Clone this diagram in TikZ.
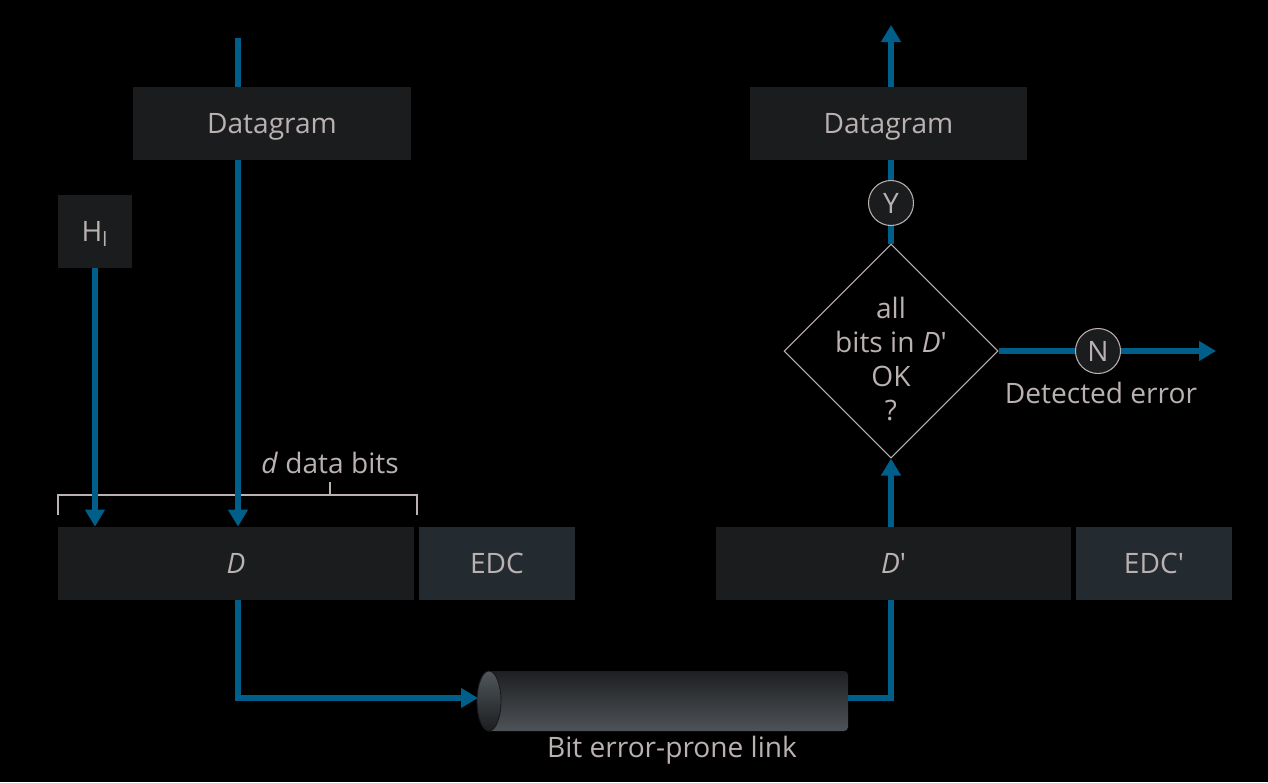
\documentclass[tikz,border=0pt]{standalone}
\usepackage{fontspec}
\setmainfont{Open Sans}
\usetikzlibrary{arrows.meta, shapes, positioning}
\definecolor{linkblue}{RGB}{0,94,138}
\definecolor{txtgray}{RGB}{186,177,177}
\definecolor{boxgray}{RGB}{27,28,30}
\definecolor{edcgray}{RGB}{35,42,48}
\tikzstyle{field}=[rectangle, fill=boxgray, inner sep=0pt, minimum height=1.46cm, text height=11.4pt, text depth=0pt, text=txtgray]
\tikzstyle{flow}=[draw=linkblue, line width=3.6pt]
\tikzstyle{flowarrow}=[flow, -{Triangle[length=0.34cm, width=0.38cm]}]
\tikzstyle{yn}=[circle, draw=txtgray, line width=0.6pt, fill=boxgray, text=txtgray, minimum size=0.9cm, inner sep=0pt, text height=11.4pt, text depth=0pt]
\tikzstyle{caption}=[text=txtgray, inner sep=0pt]

\begin{document}
\begin{tikzpicture}[x=0.02cm, y=-0.02cm, font=\fontsize{16}{19.3}\selectfont]
\fill[black] (0,0) rectangle (1268,782);
\node [field, minimum width=5.56cm] (dgL) at (272,123.5) {Datagram};
\node [field, minimum width=5.54cm] (dgR) at (888.5,123.5) {Datagram};
\node [field, minimum width=1.48cm] (hl) at (95,231.5) {H\textsubscript{l}};
\node [field, minimum width=7.12cm] (dfield) at (236,563.5) {\textit{D}};
\node [field, minimum width=3.12cm, fill=edcgray] (edc) at (497,563.5) {EDC};
\node [field, minimum width=7.1cm] (dp) at (893.5,563.5) {\textit{D}\textquotesingle};
\node [field, minimum width=3.12cm, fill=edcgray] (edcp) at (1154,563.5) {EDC\textquotesingle};
\node [diamond, draw=txtgray, line width=0.6pt, fill=black, aspect=1, minimum width=4.28cm, minimum height=4.28cm, inner sep=0pt] (chk) at (891,351) {};
\node [caption, align=center] (qtxt) at (891,359) {all\\bits in \textit{D}\textquotesingle\\OK\\?};
\node [yn] (yes) at (891,203) {Y};
\node [yn] (no) at (1098,351) {N};
\node [caption] (err) at (1101,393) {Detected error};
\node [caption] (dbits) at (330,463) {\textit{d} data bits};
\coordinate (inL) at (238,38);
\coordinate (outR) at (891,25);
\coordinate (errOut) at (1216,351);
\coordinate (linkL) at (478,698);
\coordinate (linkR) at (848,698);
\coordinate (turnR) at (891,698);

% the link
\shade[top color={rgb,255:red,30;green,31;blue,33}, middle color={rgb,255:red,33;green,34;blue,36}, bottom color={rgb,255:red,78;green,83;blue,88}]
  (489,671) -- (844,671) to[out=0,in=90] (848,675) -- (848,727) to[out=-90,in=0] (844,731) -- (489,731) -- cycle;
\shade[top color={rgb,255:red,80;green,86;blue,90}, bottom color={rgb,255:red,28;green,30;blue,32}, draw={rgb,255:red,25;green,26;blue,28}, line width=0.5pt]
  (489,701) ellipse [x radius=0.24cm, y radius=0.6cm];
\node [caption] (linktxt) at (672,750) {Bit error-prone link};

% d data bits bracket
\draw [txtgray, line width=0.6pt] (58,515) -- (58,495) -- (417,495) -- (417,515) (330,495) -- (dbits.south |- 0,482);

% sender side
\draw [flow] (inL) -- (inL |- dgL.north);
\draw [flowarrow] (inL |- dgL.south) -- (inL |- dfield.north);
\draw [flowarrow] (hl.south) -- (hl.south |- dfield.north);
\draw [flowarrow] (inL |- dfield.south) -- (inL |- linkL) -- (linkL);

% receiver side
\draw [flow] (linkR) -- (turnR) -- (turnR |- dp.south);
\draw [flowarrow] (turnR |- dp.north) -- (chk.south);
\draw [flow] (chk.north) -- (yes);
\draw [flow] (yes) -- (yes |- dgR.south);
\draw [flowarrow] (yes |- dgR.north) -- (outR);
\draw [flow] (chk.east) -- (no);
\draw [flowarrow] (no) -- (errOut);
\end{tikzpicture}
\end{document}
